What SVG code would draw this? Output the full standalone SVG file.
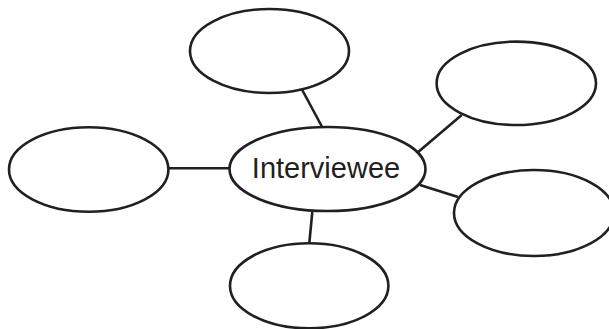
<svg xmlns="http://www.w3.org/2000/svg" width="609" height="329" viewBox="0 0 609 329">
  <style>
    .node { fill: #ffffff; stroke: #231f20; stroke-width: 2.6; }
    .link { stroke: #231f20; stroke-width: 2.6; fill: none; }
    .label { font-family: "Liberation Sans", Arial, sans-serif; font-size: 29px; fill: #231f20; text-anchor: middle; }
  </style>
  <rect width="609" height="329" fill="#ffffff"/>
  <g id="connectors">
    <line class="link" x1="301.7" y1="89" x2="322.7" y2="128"/>
    <line class="link" x1="461.7" y1="115" x2="417" y2="153"/>
    <line class="link" x1="168" y1="168.3" x2="230" y2="168.3"/>
    <line class="link" x1="420" y1="185" x2="458" y2="197"/>
    <line class="link" x1="312.3" y1="212" x2="309.3" y2="243"/>
  </g>
  <g id="node-top">
    <ellipse class="node" cx="269.5" cy="51" rx="79.5" ry="42"/>
  </g>
  <g id="node-top-right">
    <ellipse class="node" cx="516.3" cy="83.3" rx="79.7" ry="41.7"/>
  </g>
  <g id="node-left">
    <ellipse class="node" cx="88.7" cy="169.5" rx="79.7" ry="42.2"/>
  </g>
  <g id="node-center">
    <ellipse class="node" cx="327.5" cy="169" rx="98" ry="42"/>
    <text class="label" x="326" y="177.7">Interviewee</text>
  </g>
  <g id="node-right">
    <ellipse class="node" cx="534" cy="213" rx="80" ry="43"/>
  </g>
  <g id="node-bottom">
    <ellipse class="node" cx="309.2" cy="285.8" rx="79.2" ry="42.5"/>
  </g>
</svg>
